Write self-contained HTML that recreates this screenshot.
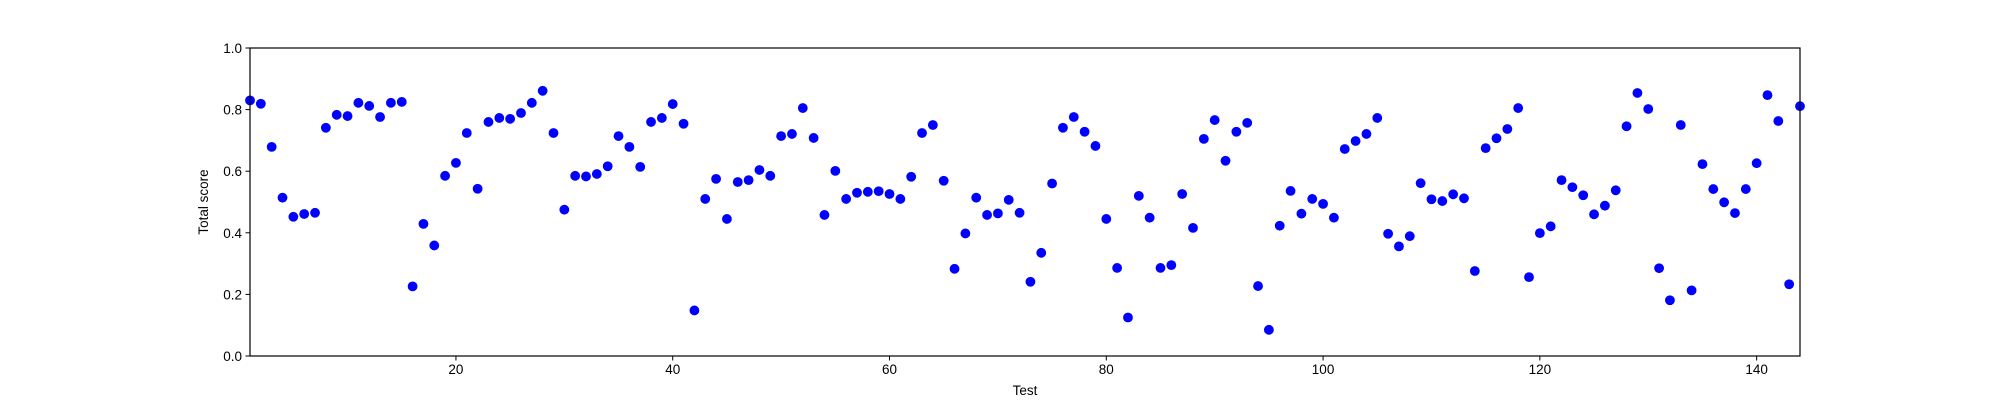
<!DOCTYPE html>
<html><head><meta charset="utf-8"><style>
html,body{margin:0;padding:0;background:#fff;}
svg{display:block;font-family:"Liberation Sans","DejaVu Sans",sans-serif;}
</style></head><body>
<svg id="chart" width="2000" height="400" viewBox="0 0 2000 400">
<rect width="2000" height="400" fill="#fff"/>
<g id="plot"></g>
<g id="axes"></g>
<text x="1025" y="395" text-anchor="middle" font-size="13.5" fill="#000">Test</text>
<text transform="translate(208,202) rotate(-90)" text-anchor="middle" font-size="13.5" fill="#000">Total score</text>
</svg>
<script>
const scores = [0.830,0.819,0.679,0.514,0.452,0.461,0.465,0.741,0.783,0.779,0.822,0.812,0.776,0.822,0.825,0.226,0.429,0.359,0.585,0.627,
0.724,0.543,0.760,0.773,0.770,0.789,0.822,0.861,0.724,0.475,0.585,0.583,0.591,0.616,0.714,0.679,0.614,0.760,0.773,0.818,
0.754,0.148,0.510,0.575,0.445,0.565,0.571,0.604,0.585,0.714,0.721,0.805,0.708,0.458,0.601,0.510,0.530,0.533,0.535,0.526,
0.510,0.582,0.724,0.750,0.569,0.283,0.398,0.514,0.458,0.463,0.507,0.465,0.241,0.335,0.560,0.741,0.776,0.728,0.682,0.445,
0.286,0.125,0.520,0.449,0.286,0.295,0.526,0.416,0.705,0.766,0.634,0.728,0.757,0.227,0.085,0.423,0.536,0.462,0.510,0.494,
0.449,0.672,0.698,0.721,0.773,0.397,0.356,0.389,0.561,0.509,0.503,0.525,0.512,0.276,0.675,0.707,0.737,0.805,0.256,0.399,
0.421,0.571,0.548,0.522,0.460,0.488,0.538,0.746,0.854,0.802,0.285,0.181,0.750,0.213,0.623,0.542,0.499,0.464,0.542,0.626,
0.847,0.763,0.233,0.811];
const xTicks = [20,40,60,80,100,120,140];
const yTicks = [0,0.2,0.4,0.6,0.8,1.0];
const xMin = 1, xMax = 144, yMin = 0, yMax = 1;
const L=250, R=1800, T=48, B=356;
const NS="http://www.w3.org/2000/svg";
function sx(v){return L+(v-xMin)/(xMax-xMin)*(R-L);}
function sy(v){return B-(v-yMin)/(yMax-yMin)*(B-T);}
function mk(tag,attrs,parent){const e=document.createElementNS(NS,tag);for(const k in attrs)e.setAttribute(k,attrs[k]);parent.appendChild(e);return e;}
const plot=document.getElementById('plot');
const axes=document.getElementById('axes');
scores.forEach((v,i)=>{
  const c=mk('circle',{cx:sx(i+1),cy:sy(v),r:4.9,fill:'#0000ff'},plot);
  
  
});
const frame=mk('rect',{x:L,y:T,width:R-L,height:B-T,fill:'none',stroke:'#000','stroke-width':1.2},axes);


xTicks.forEach(t=>{
  const x=sx(t);
  const tk=mk('line',{x1:x,y1:B,x2:x,y2:B+4.5,stroke:'#000','stroke-width':1},axes);
  
  
  const lb=mk('text',{x:x,y:B+18,'text-anchor':'middle','font-size':13.5,fill:'#000'},axes);
  lb.textContent=String(t);
  
  
});
yTicks.forEach(t=>{
  const y=sy(t);
  const tk=mk('line',{x1:L-4.5,y1:y,x2:L,y2:y,stroke:'#000','stroke-width':1},axes);
  
  
  const lb=mk('text',{x:L-8,y:y+5,'text-anchor':'end','font-size':13.5,fill:'#000'},axes);
  lb.textContent=t.toFixed(1);
  
  
});
</script>
</body></html>
